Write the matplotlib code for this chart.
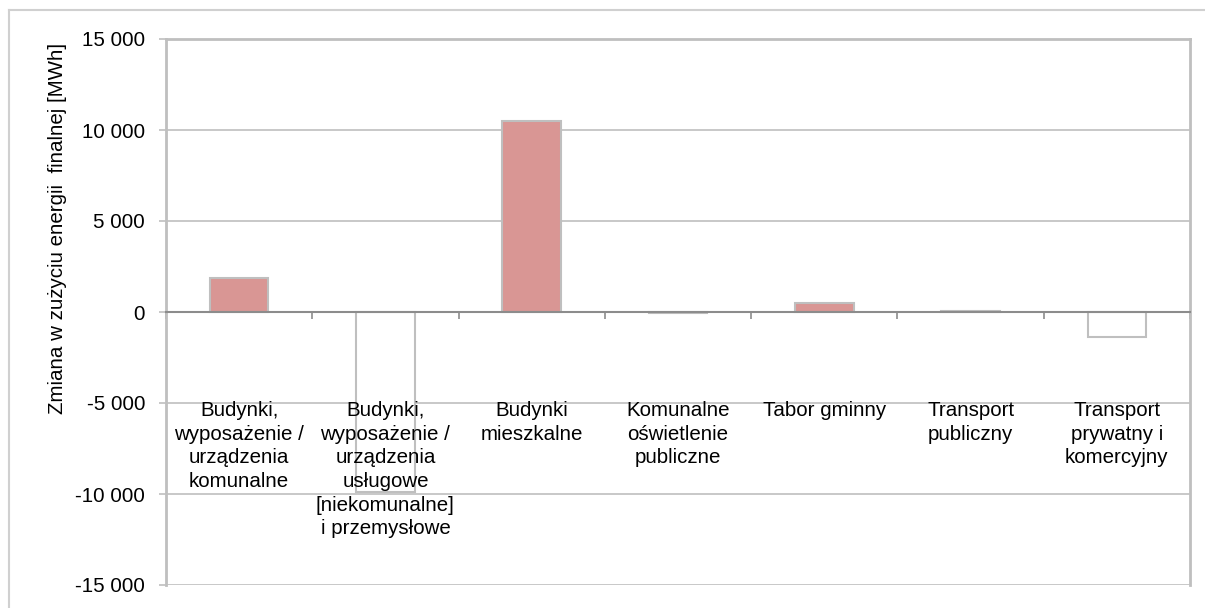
import numpy as np
import matplotlib.pyplot as plt
from matplotlib.lines import Line2D

plt.rcParams['font.family'] = ['Liberation Sans', 'DejaVu Sans']

# Dane
kategorie = [
    "Budynki,\nwyposażenie /\nurządzenia\nkomunalne",
    "Budynki,\nwyposażenie /\nurządzenia\nusługowe\n[niekomunalne]\ni przemysłowe",
    "Budynki\nmieszkalne",
    "Komunalne\noświetlenie\npubliczne",
    "Tabor gminny",
    "Transport\npubliczny",
    "Transport\nprywatny i\nkomercyjny",
]
zmiana_mwh = [1870, -9900, 10500, -60, 500, 60, -1400]
y_ticks = [-15000, -10000, -5000, 0, 5000, 10000, 15000]
y_labels = ["-15 000", "-10 000", "-5 000", "0", "5 000", "10 000", "15 000"]
y_title = "Zmiana w zużyciu energii  finalnej [MWh]"

GRAY = '#BFBFBF'
PINK = '#D99694'
FS = 14.8

fig = plt.figure(figsize=(12.05, 6.08), dpi=100)
ax = fig.add_axes([166 / 1205, 23 / 608, 1024 / 1205, 546 / 608])

x = np.arange(len(zmiana_mwh))
kolory = [PINK if v > 0 else 'white' for v in zmiana_mwh]
ax.bar(x, zmiana_mwh, width=0.40, color=kolory, edgecolor=GRAY,
       linewidth=1.5, zorder=3)

ax.set_xlim(-0.5, len(zmiana_mwh) - 0.5)
ax.set_ylim(-15000, 15000)

# Siatka pozioma
ax.set_yticks(y_ticks)
ax.set_yticklabels(y_labels, fontsize=FS)
ax.yaxis.grid(True, color=GRAY, linewidth=1.2, zorder=0)
ax.tick_params(axis='y', direction='out', length=5, width=1.2, color=GRAY,
               pad=10)

# Oś X na poziomie zera
ax.spines['bottom'].set_position(('data', 0))
ax.spines['bottom'].set_color('#8C8C8C')
ax.spines['bottom'].set_linewidth(1.5)
ax.spines['bottom'].set_zorder(4)
for s in ['left', 'right', 'top']:
    ax.spines[s].set_color(GRAY)
    ax.spines[s].set_linewidth(2)
ax.set_xticks(np.arange(-0.5, len(zmiana_mwh)))
ax.set_xticklabels([])
ax.tick_params(axis='x', direction='out', length=5, width=1.2,
               color='#8C8C8C')

# Etykiety kategorii
for xi, lab in zip(x, kategorie):
    ax.text(xi, -4900, lab, ha='center', va='top', fontsize=FS,
            linespacing=1.31, zorder=5)

fig.text(58 / 1205, 1 - 228 / 608, y_title, rotation=90, ha='center',
         va='center', fontsize=FS)

# Ramka wykresu
fig.add_artist(Line2D([9 / 1205, 1.0], [1 - 10 / 608] * 2,
                      transform=fig.transFigure, color='#D0D0D0', lw=1.5))
fig.add_artist(Line2D([9 / 1205] * 2, [0.0, 1 - 10 / 608],
                      transform=fig.transFigure, color='#D0D0D0', lw=1.5))

fig.savefig('out.png', dpi=100)
